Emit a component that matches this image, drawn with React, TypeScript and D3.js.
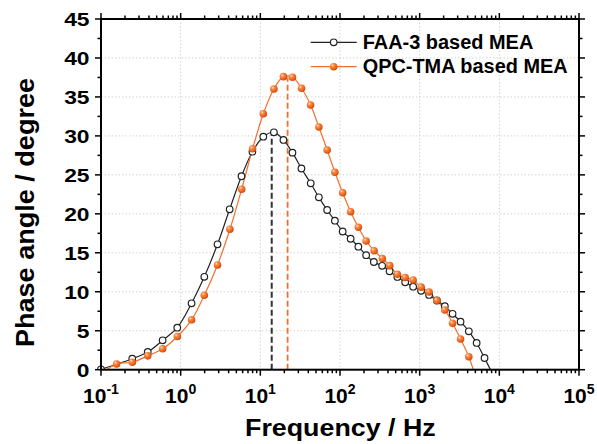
import React from "react";
import * as d3 from "d3";

const FAA_FREQ = [0.1, 0.247, 0.386, 0.594, 0.906, 1.37, 1.98, 2.9, 4.12, 5.8, 7.96, 10.9, 14.8, 19.5, 25.3, 32.8, 42.9, 54.3, 69.0, 86.3, 108, 136, 170, 213, 266, 338, 419, 525, 658, 828, 1042, 1313, 1644, 2070, 2588, 3260, 4140, 5190, 6520, 8185];
const FAA_PHASE = [0.05, 1.41, 2.27, 3.77, 5.39, 8.52, 11.92, 16.09, 20.58, 24.82, 27.97, 29.9, 30.46, 29.48, 27.85, 25.82, 23.92, 22.12, 20.49, 19.12, 17.73, 16.8, 15.78, 14.69, 13.82, 13.33, 12.63, 11.9, 11.22, 10.65, 10.13, 9.59, 8.88, 8.14, 7.17, 6.16, 4.93, 3.43, 1.5, -0.5];

const QPC_FREQ = [0.1, 0.157, 0.247, 0.386, 0.594, 0.91, 1.37, 1.98, 2.9, 4.15, 5.83, 8.0, 10.9, 14.8, 19.5, 25.3, 32.9, 42.7, 54.3, 69.0, 86.3, 108, 136, 170, 213, 268, 340, 421, 525, 658, 828, 1045, 1313, 1644, 2070, 2588, 3260, 4140, 5224];
const QPC_PHASE = [-0.6, 0.73, 0.96, 1.78, 2.69, 4.26, 6.4, 9.56, 13.43, 18.02, 23.16, 28.35, 32.85, 36.02, 37.6, 37.52, 36.11, 33.97, 31.14, 28.19, 25.33, 22.71, 20.27, 18.27, 16.51, 15.27, 14.27, 13.35, 12.24, 11.83, 11.51, 10.59, 9.97, 8.88, 7.66, 5.95, 3.94, 1.67, -1.5];

const PEAK_FREQ = [13.9, 22.0];
const PEAK_PHASE = [30.1, 37.5];

const SERIES_NAMES = ["FAA-3 based MEA", "QPC-TMA based MEA"];
const X_TICK_EXP = [-1, 0, 1, 2, 3, 4, 5];
const Y_TICKS = [0, 5, 10, 15, 20, 25, 30, 35, 40, 45];
const X_TITLE = "Frequency / Hz";
const Y_TITLE = "Phase angle / degree";

const W = 597, H = 444;
const L = 101, R = 579, T = 19, B = 369.7;
const ORANGE = "#F07030";
const FONT = "'Liberation Sans', Arial, Helvetica, sans-serif";

export default function App() {
  const x = d3.scaleLog().domain([0.1, 1e5]).range([L, R]);
  const y = d3.scaleLinear().domain([0, 45]).range([B, T]);

  const faa = FAA_FREQ.map((f, i) => [f, FAA_PHASE[i]] as [number, number]);
  const qpc = QPC_FREQ.map((f, i) => [f, QPC_PHASE[i]] as [number, number]);

  const line = d3
    .line<[number, number]>()
    .x((d) => x(d[0]))
    .y((d) => y(d[1]))
    .curve(d3.curveCatmullRom.alpha(0.5));

  const minorX: number[] = [];
  for (let e = -1; e < 5; e++) {
    for (let k = 2; k <= 9; k++) minorX.push(k * Math.pow(10, e));
  }
  const minorY = d3.range(2.5, 45, 5);
  const majorX = X_TICK_EXP.map((e) => Math.pow(10, e));

  const axisStroke = 2;
  const majLen = 6;
  const minLen = 3.5;

  return (
    <svg
      width={W}
      height={H}
      style={{ position: "absolute", left: 0, top: 0, background: "#fff" }}
      fontFamily={FONT}
    >
      <defs>
        <clipPath id="plotClip">
          <rect x={L} y={T} width={R - L} height={B - T} />
        </clipPath>
        <clipPath id="markClip">
          <rect x={L - 10} y={T - 10} width={R - L + 20} height={B - T + 10} />
        </clipPath>
        <radialGradient id="sphere" cx="35%" cy="32%" r="70%">
          <stop offset="0%" stopColor="#ffe2cc" />
          <stop offset="30%" stopColor="#f78a47" />
          <stop offset="75%" stopColor="#ec5f18" />
          <stop offset="100%" stopColor="#c84a0c" />
        </radialGradient>
      </defs>
      <rect x={0} y={0} width={W} height={H} fill="#fff" />

      {/* grid */}
      <g stroke="#d4d4d4" strokeWidth={1} strokeDasharray="1.5,2">
        {majorX.slice(1, -1).map((v) => (
          <line key={"gx" + v} x1={x(v)} x2={x(v)} y1={T} y2={B} />
        ))}
        {Y_TICKS.slice(1, -1).map((v) => (
          <line key={"gy" + v} x1={L} x2={R} y1={y(v)} y2={y(v)} />
        ))}
      </g>

      {/* peak dashed lines */}
      <g clipPath="url(#plotClip)">
        <line
          x1={x(PEAK_FREQ[0])}
          x2={x(PEAK_FREQ[0])}
          y1={y(0)}
          y2={y(PEAK_PHASE[0])}
          stroke="#333"
          strokeWidth={2}
          strokeDasharray="6,3"
        />
        <line
          x1={x(PEAK_FREQ[1])}
          x2={x(PEAK_FREQ[1])}
          y1={y(0)}
          y2={y(PEAK_PHASE[1])}
          stroke={ORANGE}
          strokeWidth={1.8}
          strokeDasharray="6,3"
        />
      </g>

      {/* lines */}
      <g clipPath="url(#plotClip)" fill="none">
        <path d={line(faa) || ""} stroke="#222" strokeWidth={1.2} />
        <path d={line(qpc) || ""} stroke={ORANGE} strokeWidth={1.2} />
      </g>

      {/* markers */}
      <g clipPath="url(#markClip)">
        {faa.map((d, i) => (
          <circle
            key={"f" + i}
            cx={x(d[0])}
            cy={y(d[1])}
            r={3.3}
            fill="#fff"
            stroke="#222"
            strokeWidth={1.2}
          />
        ))}
        {qpc.map((d, i) => (
          <circle
            key={"q" + i}
            cx={x(d[0])}
            cy={y(d[1])}
            r={3.8}
            fill="url(#sphere)"
          />
        ))}
      </g>

      {/* frame */}
      <rect
        x={L}
        y={T}
        width={R - L}
        height={B - T}
        fill="none"
        stroke="#000"
        strokeWidth={axisStroke}
      />

      {/* x ticks (outward, bottom and top) */}
      <g stroke="#000" strokeWidth={1.5}>
        {majorX.map((v) => (
          <g key={"mx" + v}>
            <line x1={x(v)} x2={x(v)} y1={B} y2={B + majLen} />
            <line x1={x(v)} x2={x(v)} y1={T} y2={T - majLen} />
          </g>
        ))}
        {minorX.map((v) => (
          <g key={"nx" + v}>
            <line x1={x(v)} x2={x(v)} y1={B} y2={B + minLen} />
            <line x1={x(v)} x2={x(v)} y1={T} y2={T - minLen} />
          </g>
        ))}
        {Y_TICKS.map((v) => (
          <g key={"my" + v}>
            <line x1={L} x2={L - majLen} y1={y(v)} y2={y(v)} />
            <line x1={R} x2={R + majLen} y1={y(v)} y2={y(v)} />
          </g>
        ))}
        {minorY.map((v) => (
          <g key={"ny" + v}>
            <line x1={L} x2={L - minLen} y1={y(v)} y2={y(v)} />
            <line x1={R} x2={R + minLen} y1={y(v)} y2={y(v)} />
          </g>
        ))}
      </g>

      {/* y tick labels */}
      <g fontWeight="bold" fontSize={19} fill="#000">
        {Y_TICKS.map((v) => (
          <text
            key={"yl" + v}
            transform={`translate(${89.5},${y(v) + 6.8}) scale(1.2,1)`}
            textAnchor="end"
          >
            {v}
          </text>
        ))}
      </g>

      {/* x tick labels */}
      <g fontWeight="bold" fill="#000">
        {X_TICK_EXP.map((e) => (
          <text
            key={"xl" + e}
            x={x(Math.pow(10, e))}
            y={403}
            textAnchor="middle"
            fontSize={21}
          >
            10
            <tspan dy={-9.5} fontSize={14}>
              {e}
            </tspan>
          </text>
        ))}
      </g>

      {/* axis titles */}
      <text
        x={245}
        y={436}
        fontWeight="bold"
        fontSize={23.5}
        textLength={190.7}
        lengthAdjust="spacingAndGlyphs"
      >
        {X_TITLE}
      </text>
      <text
        transform={`translate(33.5,${347}) rotate(-90)`}
        fontWeight="bold"
        fontSize={25.5}
        textLength={269}
        lengthAdjust="spacingAndGlyphs"
      >
        {Y_TITLE}
      </text>

      {/* legend */}
      <g>
        <line x1={310.7} x2={356.7} y1={42.3} y2={42.3} stroke="#222" strokeWidth={1.2} />
        <circle cx={333.7} cy={42.3} r={3.3} fill="#fff" stroke="#222" strokeWidth={1.2} />
        <text
          x={362.7}
          y={48.5}
          fontWeight="bold"
          fontSize={19.5}
          textLength={170.6}
          lengthAdjust="spacingAndGlyphs"
        >
          {SERIES_NAMES[0]}
        </text>
        <line x1={310.7} x2={356.7} y1={66.7} y2={66.7} stroke={ORANGE} strokeWidth={1.2} />
        <circle cx={333.7} cy={66.7} r={3.8} fill="url(#sphere)" />
        <text
          x={362.7}
          y={73.3}
          fontWeight="bold"
          fontSize={19.5}
          textLength={205}
          lengthAdjust="spacingAndGlyphs"
        >
          {SERIES_NAMES[1]}
        </text>
      </g>
    </svg>
  );
}
